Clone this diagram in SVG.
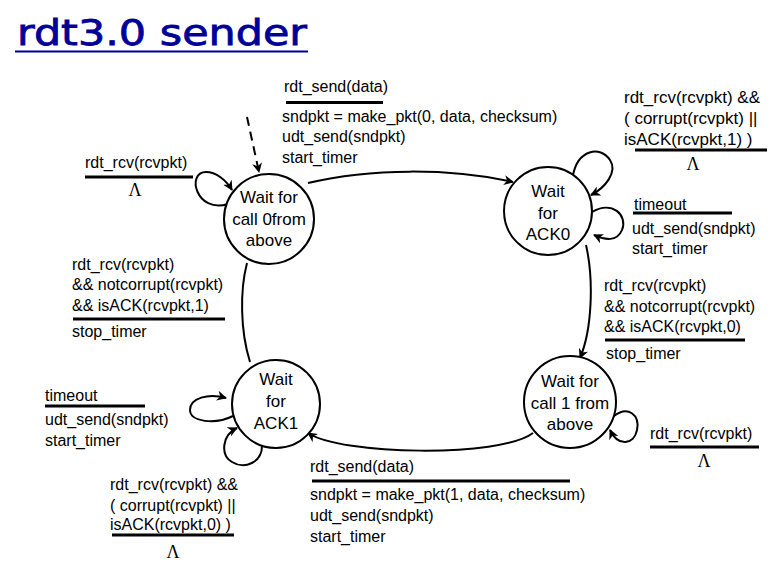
<svg xmlns="http://www.w3.org/2000/svg" width="776" height="570" viewBox="0 0 776 570">
<style>
.t{font-family:"Liberation Sans",Arial,sans-serif;font-size:16px;fill:#000}
.b{font-size:17px}
.s{font-family:"Liberation Sans",Arial,sans-serif;font-size:17px;fill:#000;text-anchor:middle}
.l{font-family:"Liberation Serif","Times New Roman",serif;font-size:18px;fill:#000;text-anchor:middle}
.u{stroke:#000;stroke-width:3}
.c{fill:#fff;stroke:#000;stroke-width:2}
.e{fill:none;stroke:#000;stroke-width:2}
</style>
<defs>
<marker id="ah" viewBox="0 0 10 10" refX="9" refY="5" markerWidth="10" markerHeight="10" markerUnits="userSpaceOnUse" orient="auto">
<path d="M0,0 L10,5 L0,10 L3,5 z" fill="#000"/>
</marker>
</defs>
<rect width="776" height="570" fill="#fff"/>
<g id="title">
<text x="17" y="45" font-family="DejaVu Sans,sans-serif" font-size="36" fill="#000099" stroke="#000099" stroke-width="0.8" textLength="290" lengthAdjust="spacingAndGlyphs">rdt3.0 sender</text>
<line x1="15" y1="51.5" x2="308" y2="51.5" stroke="#000099" stroke-width="2"/>
</g>
<g id="connectors">
<path class="e" d="M247,117 L259,172" stroke-width="3" stroke-dasharray="9,6" marker-end="url(#ah)"/>
<path class="e" d="M308,183 C370,168 450,168 513,182" marker-end="url(#ah)"/>
<path class="e" d="M586,245 C594,280 592,330 580,358" marker-end="url(#ah)"/>
<path class="e" d="M533,433 C500,458 340,455 308,433" marker-end="url(#ah)"/>
<path class="e" d="M250,362 C240,330 240,290 247,263"/>
<path class="e" d="M228,204 C196,214 186,172 206,172 C216,172 226,180 232,190" marker-end="url(#ah)"/>
<path class="e" d="M573,175 C578,150 600,145 610,160 C618,172 605,188 591,195" marker-end="url(#ah)"/>
<path class="e" d="M592,212 C612,200 628,215 622,230 C617,242 605,240 594,235" marker-end="url(#ah)"/>
<path class="e" d="M614,416 C628,405 640,415 637,430 C634,445 618,447 610,430" marker-end="url(#ah)"/>
<path class="e" d="M233,416 C215,425 190,422 190,410 C190,398 208,393 226,398" marker-end="url(#ah)"/>
<path class="e" d="M262,446 C262,462 245,470 232,462 C220,455 222,435 237,428" marker-end="url(#ah)"/>
</g>
<g id="s0">
<circle class="c" cx="269" cy="219" r="45"/>
<text class="s" x="269" y="203">Wait for</text>
<text class="s" x="269" y="225">call 0from</text>
<text class="s" x="269" y="246">above</text>
</g>
<g id="s1">
<circle class="c" cx="548" cy="211" r="44"/>
<text class="s" x="548" y="197">Wait</text>
<text class="s" x="548" y="219">for</text>
<text class="s" x="548" y="240">ACK0</text>
</g>
<g id="s2">
<circle class="c" cx="570" cy="402" r="46"/>
<text class="s" x="570" y="387">Wait for</text>
<text class="s" x="570" y="409">call 1 from</text>
<text class="s" x="570" y="430">above</text>
</g>
<g id="s3">
<circle class="c" cx="276" cy="404" r="44"/>
<text class="s" x="276" y="385">Wait</text>
<text class="s" x="276" y="407">for</text>
<text class="s" x="276" y="429">ACK1</text>
</g>
<g id="labels">
<text class="t" x="284" y="92">rdt_send(data)</text>
<line class="u" x1="286" y1="102.5" x2="383" y2="102.5"/>
<text class="t" x="282" y="122">sndpkt = make_pkt(0, data, checksum)</text>
<text class="t" x="282" y="142">udt_send(sndpkt)</text>
<text class="t" x="282" y="163">start_timer</text>

<text class="t b" x="624" y="103">rdt_rcv(rcvpkt) &amp;&amp;</text>
<text class="t b" x="624" y="124">( corrupt(rcvpkt) ||</text>
<text class="t b" x="624" y="145">isACK(rcvpkt,1) )</text>
<line class="u" x1="635" y1="150" x2="767" y2="150"/>
<text class="l" x="693" y="170">Λ</text>

<text class="t" x="634" y="210">timeout</text>
<line class="u" x1="633" y1="213" x2="732" y2="213"/>
<text class="t" x="632" y="234">udt_send(sndpkt)</text>
<text class="t" x="632" y="254">start_timer</text>

<text class="t" x="85" y="168">rdt_rcv(rcvpkt)</text>
<line class="u" x1="85" y1="177" x2="193" y2="177"/>
<text class="l" x="135" y="196">Λ</text>

<text class="t" x="72" y="270">rdt_rcv(rcvpkt)</text>
<text class="t" x="72" y="290">&amp;&amp; notcorrupt(rcvpkt)</text>
<text class="t" x="72" y="311">&amp;&amp; isACK(rcvpkt,1)</text>
<line class="u" x1="73" y1="319" x2="225" y2="319"/>
<text class="t" x="72" y="337">stop_timer</text>

<text class="t" x="604" y="291">rdt_rcv(rcvpkt)</text>
<text class="t" x="604" y="312">&amp;&amp; notcorrupt(rcvpkt)</text>
<text class="t" x="604" y="332">&amp;&amp; isACK(rcvpkt,0)</text>
<line class="u" x1="605" y1="340" x2="745" y2="340"/>
<text class="t" x="606" y="359">stop_timer</text>

<text class="t" x="650" y="439">rdt_rcv(rcvpkt)</text>
<line class="u" x1="650" y1="447" x2="759" y2="447"/>
<text class="l" x="704" y="467">Λ</text>

<text class="t" x="45" y="401">timeout</text>
<line class="u" x1="45" y1="406" x2="145" y2="406"/>
<text class="t" x="45" y="425">udt_send(sndpkt)</text>
<text class="t" x="45" y="446">start_timer</text>

<text class="t" x="110" y="490">rdt_rcv(rcvpkt) &amp;&amp;</text>
<text class="t" x="110" y="511">( corrupt(rcvpkt) ||</text>
<text class="t" x="110" y="530">isACK(rcvpkt,0) )</text>
<line class="u" x1="112" y1="535" x2="234" y2="535"/>
<text class="l" x="173" y="558">Λ</text>

<text class="t" x="310" y="472">rdt_send(data)</text>
<line class="u" x1="312" y1="481" x2="570" y2="481"/>
<text class="t" x="310" y="500">sndpkt = make_pkt(1, data, checksum)</text>
<text class="t" x="310" y="521">udt_send(sndpkt)</text>
<text class="t" x="310" y="542">start_timer</text>
</g>
</svg>
